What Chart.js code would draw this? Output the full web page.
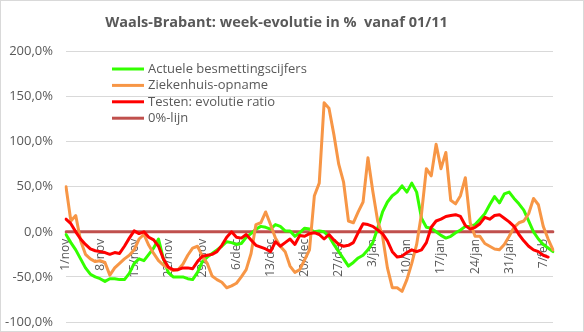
<!DOCTYPE html>
<html>
<head>
<meta charset="utf-8">
<script src="https://cdn.jsdelivr.net/npm/chart.js@4/dist/chart.umd.min.js"></script>
<style>
  html, body { margin: 0; padding: 0; background: #ffffff; }
  canvas { display: block; }
</style>
</head>
<body>
<canvas id="grafiek" width="584" height="332"></canvas>
<script>
// Dagelijkse reeksen vanaf 1 november (week-evolutie in %)
const eersteDag = { jaar: 2020, maand: 10, dag: 1 };
const maandNamen = ['jan', 'feb', 'mrt', 'apr', 'mei', 'jun', 'jul', 'aug', 'sep', 'okt', 'nov', 'dec'];
const weekLabels = ['1/nov', '8/nov', '15/nov', '22/nov', '29/nov', '6/dec', '13/dec', '20/dec',
                    '27/dec', '3/jan', '10/jan', '17/jan', '24/jan', '31/jan', '7/feb'];

const reeksNamen = ['Actuele besmettingscijfers', 'Ziekenhuis-opname', 'Testen: evolutie ratio', '0%-lijn'];

const besmettingen = [
  -3, -12, -20, -30, -40, -47, -50, -52, -55, -52,
  -52, -53, -53, -46, -35, -30, -32, -25, -18, -8,
  -30, -45, -50, -50, -50, -52, -53, -45, -33, -28,
  -24, -20, -16, -11, -12, -14, -13, -6, -2, 3,
  6, 5, 3, 8, 6, 1, 1, -5, -1, 4,
  3, 0, 1, 0, -5, -14, -22, -30, -38, -34,
  -29, -26, -20, -12, 4, 22, 33, 40, 44, 51,
  44, 54, 44, 15, 5, 4, 0, -4, -7, -5,
  -1, 2, 6, 6, 8, 14, 20, 30, 39, 32,
  42, 44, 37, 31, 24, 12, 0, -8, -14, -18,
  -22
];

const ziekenhuis = [
  50, 12, 18, -10, -25, -30, -33, -32, -34, -48,
  -40, -35, -30, -26, -20, -8, -3, -15, -24, -32,
  -37, -40, -43, -42, -36, -26, -18, -16, -27, -35,
  -49, -53, -56, -62, -60, -57, -50, -42, -24, 8,
  10, 22, 8, -7, -16, -22, -38, -45, -42, -31,
  -20, 40, 54, 143, 137, 108, 75, 55, 12, 10,
  22, 33, 82, 45, 12, -5, -40, -62, -62, -66,
  -53, -35, -14, 20, 70, 62, 97, 70, 88, 35,
  31, 40, 60, 10, -5, -5, -13, -16, -19, -20,
  -14, -5, 5, 10, 12, 20, 37, 30, 6, -8,
  -20
];

const testen = [
  14, 9, 0, -8, -14, -19, -21, -22, -23, -25,
  -23, -24, -16, -7, 1, -2, 0, -6, -9, -16,
  -30, -39, -42, -42, -40, -40, -41, -33, -27, -26,
  -25, -22, -15, -6, 0, -6, -7, -3, -9, -15,
  -17, -19, -22, -11, -16, -12, -8, -14, -4, -5,
  -2, -1, -3, -8, -3, -9, -14, -16, -15, -12,
  -1, 9, 8, 6, 2, -2, -10, -22, -28, -27,
  -23, -20, -22, -20, -12, 5, 12, 14, 17, 18,
  19, 17, 7, 3, 5, 9, 16, 14, 18, 19,
  15, 11, 6, -3, -10, -16, -20, -22, -26, -28,
  null
];

const nulLijn = besmettingen.map(() => 0);

// Dagcategorieën d/maand opbouwen
const dagen = besmettingen.map((_, i) => {
  const d = new Date(eersteDag.jaar, eersteDag.maand, eersteDag.dag + i);
  return d.getDate() + '/' + maandNamen[d.getMonth()];
});

const tekstKleur = '#595959';
const rasterKleur = '#D9D9D9';

const kaderPlugin = {
  id: 'kader',
  beforeDraw(chart) {
    const ctx = chart.ctx;
    ctx.save();
    ctx.fillStyle = '#ffffff';
    ctx.fillRect(0, 0, chart.width, chart.height);
    ctx.restore();
  },
  afterDraw(chart) {
    const ctx = chart.ctx;
    ctx.save();
    ctx.strokeStyle = rasterKleur;
    ctx.lineWidth = 1;
    ctx.strokeRect(0.5, 0.5, chart.width - 1, chart.height - 1);
    ctx.restore();
  }
};

// Legende binnen het grafiekvlak, linksboven
const legendePlugin = {
  id: 'binnenLegende',
  afterDraw(chart) {
    const ctx = chart.ctx;
    ctx.save();
    ctx.font = '13px "Open Sans"';
    ctx.textBaseline = 'middle';
    ctx.textAlign = 'left';
    chart.data.datasets.forEach((ds, i) => {
      const y = 69 + i * 16.4;
      ctx.strokeStyle = ds.borderColor;
      ctx.lineWidth = 3;
      ctx.beginPath();
      ctx.moveTo(112, y);
      ctx.lineTo(144, y);
      ctx.stroke();
      ctx.fillStyle = tekstKleur;
      ctx.fillText(ds.label, 148, y);
    });
    ctx.restore();
  }
};

new Chart(document.getElementById('grafiek'), {
  type: 'line',
  data: {
    labels: dagen,
    datasets: [
      { label: reeksNamen[0], data: besmettingen, borderColor: '#33FF00', borderWidth: 3, order: 3 },
      { label: reeksNamen[1], data: ziekenhuis, borderColor: '#F79646', borderWidth: 3, order: 2 },
      { label: reeksNamen[2], data: testen, borderColor: '#FF0000', borderWidth: 3, order: 1 },
      { label: reeksNamen[3], data: nulLijn, borderColor: '#C0504D', borderWidth: 3, order: 4 }
    ]
  },
  options: {
    responsive: false,
    devicePixelRatio: 1,
    animation: false,
    layout: { padding: { left: 0, right: 31, top: 0, bottom: 10 } },
    elements: {
      point: { radius: 0, hoverRadius: 0 },
      line: { tension: 0, borderCapStyle: 'round', borderJoinStyle: 'round', fill: false }
    },
    plugins: {
      legend: { display: false },
      tooltip: { enabled: false },
      title: {
        display: true,
        text: 'Waals-Brabant: week-evolutie in %  vanaf 01/11',
        color: tekstKleur,
        font: { family: '"Open Sans"', size: 14.5, weight: 'bold', lineHeight: 1.2 },
        padding: { top: 14, bottom: 20 }
      }
    },
    scales: {
      x: {
        type: 'category',
        position: { y: 0 },
        afterFit(scale) { scale.height = 0; },
        grid: { display: false, drawTicks: false },
        border: { display: false },
        ticks: {
          autoSkip: false,
          minRotation: 90,
          maxRotation: 90,
          padding: 7,
          color: tekstKleur,
          font: { family: '"Open Sans"', size: 12 },
          callback(value, index) {
            return index % 7 === 0 ? weekLabels[index / 7] : '';
          }
        }
      },
      y: {
        min: -100,
        max: 200,
        afterFit(scale) { scale.width = 66; },
        grid: { color: rasterKleur, lineWidth: 1, drawTicks: true, tickLength: 13, tickColor: 'rgba(0,0,0,0)' },
        border: { display: false },
        ticks: {
          stepSize: 50,
          padding: 0,
          color: tekstKleur,
          font: { family: '"Open Sans"', size: 13 },
          callback(v) { return v.toFixed(1).replace('.', ',') + '%'; }
        }
      }
    }
  },
  plugins: [kaderPlugin, legendePlugin]
});
</script>
</body>
</html>
